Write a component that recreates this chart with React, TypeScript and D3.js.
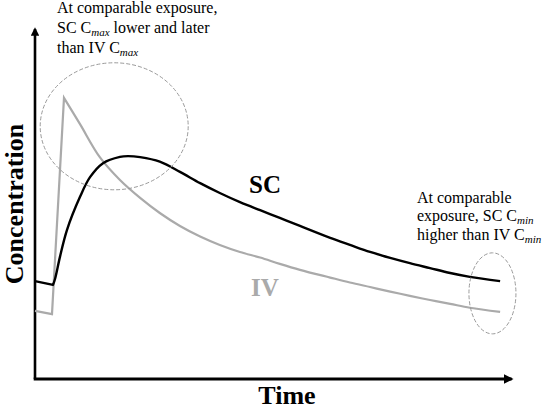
import React from "react";
import * as d3 from "d3";

// Time (arbitrary units 0-100) and concentration (arbitrary units 0-100)
const scTime = [0, 3.75, 4.17, 5.2, 6.67, 9.38, 11.46, 14.17, 17.7, 19.4, 21.9, 26.0, 30.2, 34.4, 38.5, 42.7, 46.9, 51.0, 55.2, 61.5, 65.6, 69.8, 74.0, 78.1, 82.3, 86.5, 90.6, 96.9];
const scConc = [27.9, 26.8, 28.5, 34.8, 42.5, 51.9, 57.5, 61.5, 63.3, 63.5, 63.2, 61.9, 59.0, 55.8, 53.0, 50.4, 48.1, 45.9, 43.6, 40.2, 38.2, 36.2, 34.5, 33.0, 31.6, 30.2, 29.1, 27.9];

const ivTime = [0, 3.54, 6.04, 9.38, 13.5, 17.7, 21.9, 26.0, 30.2, 34.4, 38.5, 42.7, 46.9, 51.0, 55.2, 61.5, 65.6, 69.8, 74.0, 78.1, 82.3, 86.5, 90.6, 96.9];
const ivConc = [19.4, 18.5, 80.1, 72.6, 63.2, 56.7, 51.6, 47.3, 43.6, 40.6, 38.2, 36.2, 34.6, 32.8, 31.1, 28.9, 27.5, 26.2, 24.9, 23.7, 22.5, 21.4, 20.3, 19.1];

const xLabel = "Time";
const yLabel = "Concentration";

const W = 547;
const H = 410;

export default function App() {
  const x = d3.scaleLinear().domain([0, 100]).range([35, 515]);
  const y = d3.scaleLinear().domain([0, 100]).range([379, 28]);

  const lin = d3.line<[number, number]>().x((d) => x(d[0])).y((d) => y(d[1])).curve(d3.curveLinear);
  const smooth = d3.line<[number, number]>().x((d) => x(d[0])).y((d) => y(d[1])).curve(d3.curveCatmullRom.alpha(0.5));

  const sc: [number, number][] = scTime.map((t, i) => [t, scConc[i]]);
  const iv: [number, number][] = ivTime.map((t, i) => [t, ivConc[i]]);

  const scPath = (lin(sc.slice(0, 2)) || "") + (smooth(sc.slice(1)) || "").replace(/^M/, "L");
  const ivPath = (lin(iv.slice(0, 3)) || "") + (smooth(iv.slice(2)) || "").replace(/^M/, "L");

  const font = "'Liberation Serif', 'Times New Roman', Times, serif";

  return (
    <svg width={W} height={H} style={{ position: "absolute", left: 0, top: 0, background: "#fff", fontFamily: font }}>
      <defs>
        <marker id="arr" viewBox="0 0 10 10" refX="8" refY="5" markerWidth="3.2" markerHeight="3.2" orient="auto">
          <path d="M0,0 L10,5 L0,10 z" fill="#000" />
        </marker>
      </defs>

      {/* axes */}
      <line x1={x(0)} y1={y(0)} x2={x(0)} y2={y(100) + 1} stroke="#000" strokeWidth={2.6} markerEnd="url(#arr)" />
      <line x1={x(0) - 1.3} y1={y(0)} x2={x(99.3)} y2={y(0)} stroke="#000" strokeWidth={3} markerEnd="url(#arr)" />

      {/* curves */}
      <path d={ivPath} fill="none" stroke="#aaaaaa" strokeWidth={2.2} strokeLinejoin="miter" />
      <path d={scPath} fill="none" stroke="#000" strokeWidth={2.4} strokeLinejoin="round" />

      {/* ellipses */}
      <ellipse cx={x(16.5)} cy={y(72)} rx={74} ry={63.5} fill="none" stroke="#9a9a9a" strokeWidth={1} strokeDasharray="4 2" />
      <ellipse cx={x(95.3)} cy={y(24.4)} rx={23.5} ry={40.5} fill="none" stroke="#9a9a9a" strokeWidth={1} strokeDasharray="4 2" />

      {/* series labels */}
      <text x={249} y={193} fontSize={25} fontWeight="bold" fill="#000">SC</text>
      <text x={251} y={296} fontSize={25} fontWeight="bold" fill="#aaaaaa">IV</text>

      {/* axis labels */}
      <text x={287} y={404} fontSize={26} fontWeight="bold" textAnchor="middle" fill="#000">{xLabel}</text>
      <text transform="translate(23,204) rotate(-90)" fontSize={26} fontWeight="bold" textAnchor="middle" fill="#000">{yLabel}</text>

      {/* annotations */}
      <g fontSize={16} fill="#000">
        <text x={57} y={13}>At comparable exposure,</text>
        <text x={57} y={33}>
          SC C<tspan fontSize={11} fontStyle="italic" dy={3}>max</tspan>
          <tspan dy={-3}> lower and later</tspan>
        </text>
        <text x={57} y={53}>
          than IV C<tspan fontSize={11} fontStyle="italic" dy={3}>max</tspan>
        </text>

        <text x={417} y={203}>At comparable</text>
        <text x={417} y={221}>
          exposure, SC C<tspan fontSize={11} fontStyle="italic" dy={3}>min</tspan>
        </text>
        <text x={417} y={240}>
          higher than IV C<tspan fontSize={11} fontStyle="italic" dy={3}>min</tspan>
        </text>
      </g>
    </svg>
  );
}
